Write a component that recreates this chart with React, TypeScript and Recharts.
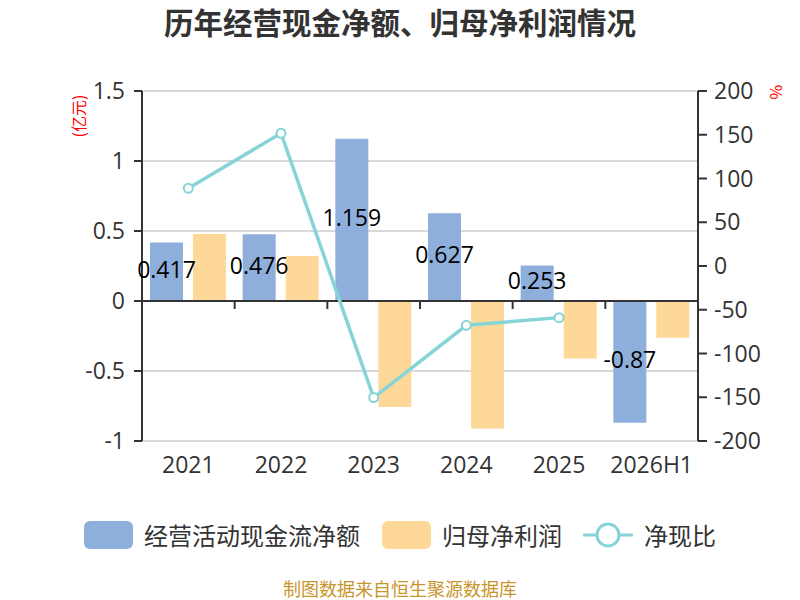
import React from 'react';
import {
  ComposedChart,
  Bar,
  Line,
  XAxis,
  YAxis,
  CartesianGrid,
  ReferenceLine,
  LabelList,
  Legend,
} from 'recharts';

const categories = ['2021', '2022', '2023', '2024', '2025', '2026H1'];
const cashFlow = [0.417, 0.476, 1.159, 0.627, 0.253, -0.87];
const netProfit = [0.479, 0.321, -0.757, -0.911, -0.411, -0.262];
const ratio: (number | null)[] = [88.8, 151.7, -150.4, -67.8, -59.0, null];
const leftTicks = [-1, -0.5, 0, 0.5, 1, 1.5];
const rightTicks = [-200, -150, -100, -50, 0, 50, 100, 150, 200];

const seriesNames = {
  cash: '经营活动现金流净额',
  profit: '归母净利润',
  ratio: '净现比',
};

const data = categories.map((c, i) => ({
  name: c,
  cash: cashFlow[i],
  profit: netProfit[i],
  ratio: ratio[i],
}));

const BLUE = '#8eaedb';
const ORANGE = '#fed899';
const TEAL = '#86d4d7';
const DARK = '#333333';
const FONT = "'Open Sans', 'Noto Sans CJK SC', sans-serif";
const CJK = "'Noto Sans CJK SC', sans-serif";

const ZeroAxis = (props: any) => {
  const { x1, y1, x2 } = props;
  const n = categories.length;
  const step = (x2 - x1) / n;
  const ticks = [];
  for (let i = 0; i <= n; i++) {
    const x = x1 + i * step;
    ticks.push(<line key={i} x1={x} y1={y1} x2={x} y2={y1 + 8} stroke={DARK} strokeWidth={2} />);
  }
  return (
    <g>
      <line x1={x1} y1={y1} x2={x2} y2={y1} stroke={DARK} strokeWidth={2} />
      {ticks}
    </g>
  );
};

const LegendContent = () => {
  const item = (icon: React.ReactNode, text: string, gap: number) => (
    <div style={{ display: 'flex', alignItems: 'center', marginRight: gap }}>
      {icon}
      <span style={{ fontFamily: CJK, fontSize: 24, color: DARK, marginLeft: 11, lineHeight: '28px' }}>{text}</span>
    </div>
  );
  return (
    <div style={{ display: 'flex', justifyContent: 'center', alignItems: 'center', width: 800 }}>
      {item(<div style={{ width: 49, height: 28, borderRadius: 6, background: BLUE }} />, seriesNames.cash, 22)}
      {item(<div style={{ width: 49, height: 28, borderRadius: 6, background: ORANGE }} />, seriesNames.profit, 21)}
      {item(
        <svg width={50} height={28}>
          <line x1={0} y1={14} x2={50} y2={14} stroke={TEAL} strokeWidth={3} />
          <circle cx={25} cy={14} r={11} fill="#fff" stroke={TEAL} strokeWidth={3} />
        </svg>,
        seriesNames.ratio,
        0
      )}
    </div>
  );
};

const CategoryTick = (props: any) => {
  const { x, y, payload } = props;
  return (
    <text x={x} y={y} dy="0.71em" textAnchor="middle" fill={DARK} fontSize={23} fontFamily={FONT}>
      {payload.value}
    </text>
  );
};

const BarValueLabel = (props: any) => {
  const { x, y, width, height, value } = props;
  return (
    <text
      x={x + width / 2}
      y={y + height / 2 - 3}
      textAnchor="middle"
      dominantBaseline="central"
      fill="#000"
      fontSize={23}
      fontFamily={FONT}
    >
      {value}
    </text>
  );
};

export default function App() {
  return (
    <div style={{ position: 'absolute', left: 0, top: 0, width: 800, height: 600, background: '#fff' }}>
      <div
        style={{
          position: 'absolute',
          left: 0,
          top: 2,
          width: 800,
          textAlign: 'center',
          fontFamily: CJK,
          fontWeight: 'bold',
          fontSize: 29.5,
          color: DARK,
          lineHeight: '38px',
        }}
      >
        历年经营现金净额、归母净利润情况
      </div>
      <div
        style={{
          position: 'absolute',
          left: 78,
          top: 116,
          transform: 'translate(-50%, -50%) rotate(-90deg)',
          fontFamily: CJK,
          fontSize: 16,
          color: '#ff0000',
          whiteSpace: 'nowrap',
        }}
      >
        (亿元)
      </div>
      <div
        style={{
          position: 'absolute',
          left: 777,
          top: 92,
          transform: 'translate(-50%, -50%) rotate(90deg)',
          fontFamily: CJK,
          fontSize: 16,
          color: '#ff0000',
          whiteSpace: 'nowrap',
        }}
      >
        %
      </div>
      <ComposedChart
        width={800}
        height={600}
        data={data}
        margin={{ top: 91, right: 22, bottom: 99, left: 82 }}
        barCategoryGap={8}
        barGap={10}
      >
        <CartesianGrid yAxisId="left" vertical={false} stroke="#cccccc" strokeWidth={1.5} />
        <XAxis
          dataKey="name"
          axisLine={false}
          tickLine={false}
          tickSize={0}
          tickMargin={16}
          height={60}
          tick={<CategoryTick />}
          interval={0}
        />
        <YAxis
          yAxisId="left"
          orientation="left"
          domain={[-1, 1.5]}
          ticks={leftTicks}
          width={60}
          axisLine={{ stroke: DARK, strokeWidth: 2 }}
          tickLine={{ stroke: DARK, strokeWidth: 2 }}
          tickSize={8}
          tickMargin={9}
          tick={{ fill: DARK, fontSize: 23, fontFamily: FONT }}
          interval={0}
        />
        <YAxis
          yAxisId="right"
          orientation="right"
          domain={[-200, 200]}
          ticks={rightTicks}
          width={80}
          axisLine={{ stroke: DARK, strokeWidth: 2 }}
          tickLine={{ stroke: DARK, strokeWidth: 2 }}
          tickSize={9}
          tickMargin={7}
          tick={{ fill: DARK, fontSize: 23, fontFamily: FONT }}
          interval={0}
        />
        <Bar yAxisId="left" dataKey="cash" name={seriesNames.cash} fill={BLUE} isAnimationActive={false}>
          <LabelList dataKey="cash" content={<BarValueLabel />} />
        </Bar>
        <Bar yAxisId="left" dataKey="profit" name={seriesNames.profit} fill={ORANGE} isAnimationActive={false} />
        <ReferenceLine yAxisId="left" y={0} shape={ZeroAxis} />
        <Line
          yAxisId="right"
          dataKey="ratio"
          name={seriesNames.ratio}
          stroke={TEAL}
          strokeWidth={3.5}
          dot={{ r: 4.5, fill: '#fff', stroke: TEAL, strokeWidth: 2 }}
          isAnimationActive={false}
        />
        <Legend
          layout="horizontal"
          verticalAlign="middle"
          align="center"
          wrapperStyle={{ top: 521, left: 0, width: 800 }}
          content={<LegendContent />}
        />
      </ComposedChart>
      <div
        style={{
          position: 'absolute',
          left: 0,
          top: 579,
          width: 800,
          textAlign: 'center',
          fontFamily: CJK,
          fontSize: 18,
          color: '#c8952c',
          lineHeight: '19px',
        }}
      >
        制图数据来自恒生聚源数据库
      </div>
    </div>
  );
}
